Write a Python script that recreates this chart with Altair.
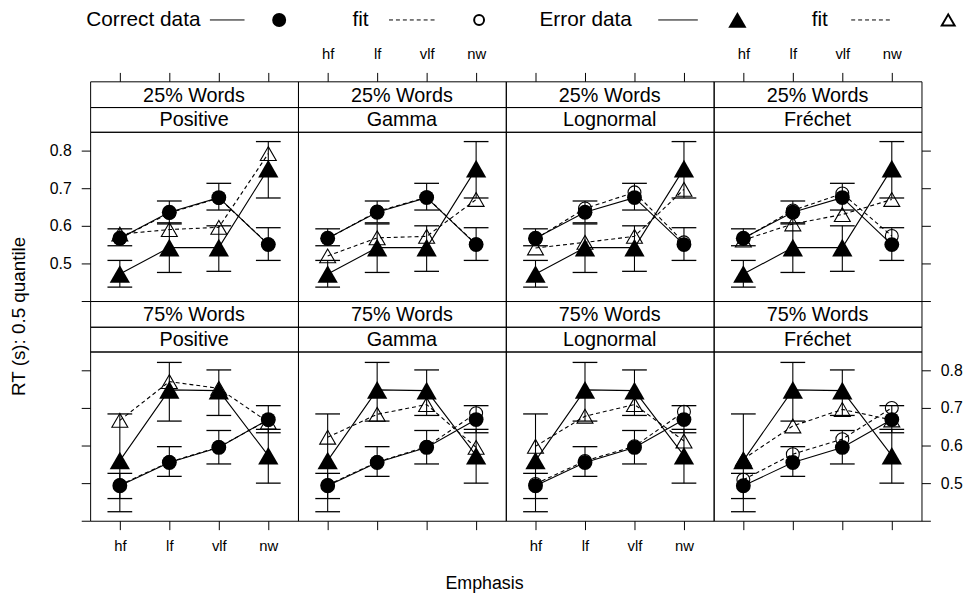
import altair as alt
import pandas as pd

FONT = "Liberation Sans"

EMPH = ["hf", "lf", "vlf", "nw"]
MODELS = ["Positive", "Gamma", "Lognormal", "Fréchet"]
WORDS = ["25% Words", "75% Words"]
LEGEND_LABELS = ["Correct data", "fit", "Error data", "fit"]
YTICKS = [0.4, 0.5, 0.6, 0.7, 0.8]

# observed quantiles (same in every model panel of a row)
CORRECT_25 = [0.567, 0.636, 0.675, 0.550]
CORRECT_25_LO = [0.547, 0.608, 0.642, 0.508]
CORRECT_25_HI = [0.592, 0.666, 0.713, 0.595]
ERROR_25 = [0.472, 0.542, 0.542, 0.752]
ERROR_25_LO = [0.437, 0.476, 0.479, 0.674]
ERROR_25_HI = [0.508, 0.605, 0.600, 0.824]

CORRECT_75 = [0.493, 0.555, 0.595, 0.669]
CORRECT_75_LO = [0.459, 0.518, 0.551, 0.634]
CORRECT_75_HI = [0.526, 0.597, 0.640, 0.706]
ERROR_75 = [0.560, 0.748, 0.746, 0.573]
ERROR_75_LO = [0.424, 0.665, 0.680, 0.500]
ERROR_75_HI = [0.684, 0.821, 0.801, 0.643]

# model fits
FIT_CORRECT_25 = {
    "Positive": [0.566, 0.634, 0.674, 0.551],
    "Gamma": [0.566, 0.638, 0.676, 0.551],
    "Lognormal": [0.565, 0.646, 0.689, 0.556],
    "Fréchet": [0.566, 0.641, 0.686, 0.573],
}
FIT_ERROR_25 = {
    "Positive": [0.578, 0.590, 0.596, 0.792],
    "Gamma": [0.520, 0.568, 0.572, 0.670],
    "Lognormal": [0.541, 0.556, 0.572, 0.697],
    "Fréchet": [0.562, 0.605, 0.630, 0.670],
}
FIT_CORRECT_75 = {
    "Positive": [0.495, 0.556, 0.596, 0.668],
    "Gamma": [0.495, 0.556, 0.597, 0.686],
    "Lognormal": [0.498, 0.559, 0.598, 0.690],
    "Fréchet": [0.509, 0.577, 0.617, 0.700],
}
FIT_ERROR_75 = {
    "Positive": [0.667, 0.770, 0.752, 0.662],
    "Gamma": [0.622, 0.683, 0.709, 0.595],
    "Lognormal": [0.598, 0.678, 0.709, 0.612],
    "Fréchet": [0.564, 0.652, 0.696, 0.668],
}

OBS = {
    WORDS[0]: (CORRECT_25, CORRECT_25_LO, CORRECT_25_HI, ERROR_25, ERROR_25_LO, ERROR_25_HI,
               FIT_CORRECT_25, FIT_ERROR_25),
    WORDS[1]: (CORRECT_75, CORRECT_75_LO, CORRECT_75_HI, ERROR_75, ERROR_75_LO, ERROR_75_HI,
               FIT_CORRECT_75, FIT_ERROR_75),
}

rows = []
for w in WORDS:
    c, clo, chi, e, elo, ehi, fc, fe = OBS[w]
    for m in MODELS:
        for i, em in enumerate(EMPH):
            rows.append(dict(words=w, model=m, emph=em, idx=i, kind="Correct", src="data",
                             val=c[i], lo=clo[i], hi=chi[i]))
            rows.append(dict(words=w, model=m, emph=em, idx=i, kind="Error", src="data",
                             val=e[i], lo=elo[i], hi=ehi[i]))
            rows.append(dict(words=w, model=m, emph=em, idx=i, kind="Correct", src="fit",
                             val=fc[m][i], lo=fc[m][i], hi=fc[m][i]))
            rows.append(dict(words=w, model=m, emph=em, idx=i, kind="Error", src="fit",
                             val=fe[m][i], lo=fe[m][i], hi=fe[m][i]))
df = pd.DataFrame(rows)

PW, PH = 210, 171
XS = alt.Scale(type="point", domain=EMPH, padding=0.6)
YS = alt.Scale(domain=[0.4, 0.85], nice=False, zero=False)


def yaxis_for(r, c):
    common = dict(values=YTICKS, tickSize=9, tickColor="black", tickWidth=1, domain=False,
                  grid=False, labelFont=FONT, labelFontSize=16, labelColor="black",
                  labelPadding=10, format=".1f",
                  labelExpr="datum.value < 0.45 ? '' : datum.label")
    if c == 0:
        d = dict(orient="left", labels=(r == 0), **common)
    elif c == 3:
        d = dict(orient="right", labels=(r == 1), **common)
    else:
        return None
    if r == 0 and c == 0:
        d.update(title="RT (s): 0.5 quantile", titleFont=FONT, titleFontSize=19,
                 titleFontWeight="normal", titleColor="black", titleX=-72, titleY=186,
                 titleAngle=270, titleAlign="center", titleBaseline="middle")
    else:
        d["title"] = None
    return alt.Axis(**d)


def xaxis_bottom(c):
    d = dict(orient="bottom", tickSize=9, tickColor="black", tickWidth=1, domain=False,
             grid=False, labels=(c % 2 == 0), labelFont=FONT, labelFontSize=15,
             labelColor="black", labelPadding=9, labelAngle=0)
    if c == 0:
        d.update(title="Emphasis", titleFont=FONT, titleFontSize=18, titleFontWeight="normal",
                 titleColor="black", titleX=398, titleY=63, titleAlign="center",
                 titleBaseline="middle")
    else:
        d["title"] = None
    return alt.Axis(**d)


def plot_panel(r, c):
    sub = df[(df.words == WORDS[r]) & (df.model == MODELS[c])]
    base = alt.Chart(sub)
    xa = xaxis_bottom(c) if r == 1 else None
    ya = yaxis_for(r, c)
    X = alt.X("emph:N", scale=XS, axis=xa)

    def Y(f):
        return alt.Y(f, scale=YS, axis=ya)

    def filt(src, kind):
        return base.transform_filter(f"datum.src == '{src}' && datum.kind == '{kind}'")

    layers = []
    for kind in ["Correct", "Error"]:
        layers.append(filt("fit", kind).mark_line(color="black", strokeWidth=1.1,
                                                  strokeDash=[4, 3]).encode(
            x=X, y=Y("val:Q"), order="idx:Q"))
    layers.append(filt("fit", "Correct").mark_point(shape="circle", filled=False, size=170,
                                                    color="black", strokeWidth=1.1,
                                                    opacity=1).encode(x=X, y=Y("val:Q")))
    layers.append(filt("fit", "Error").mark_point(shape="triangle-up", filled=False, size=260,
                                                  color="black", strokeWidth=1.1,
                                                  opacity=1).encode(x=X, y=Y("val:Q")))
    for kind in ["Correct", "Error"]:
        d = filt("data", kind)
        layers.append(d.mark_rule(color="black", strokeWidth=1.1).encode(
            x=X, y=Y("lo:Q"), y2="hi:Q"))
        layers.append(d.mark_tick(color="black", size=25, thickness=1.3, orient="horizontal",
                                  opacity=1).encode(x=X, y=Y("lo:Q")))
        layers.append(d.mark_tick(color="black", size=25, thickness=1.3, orient="horizontal",
                                  opacity=1).encode(x=X, y=Y("hi:Q")))
    for kind in ["Correct", "Error"]:
        layers.append(filt("data", kind).mark_line(color="black", strokeWidth=1.1).encode(
            x=X, y=Y("val:Q"), order="idx:Q"))
    layers.append(filt("data", "Correct").mark_point(shape="circle", filled=True, size=225,
                                                     color="black", opacity=1).encode(
        x=X, y=Y("val:Q")))
    layers.append(filt("data", "Error").mark_point(shape="triangle-up", filled=True, size=420,
                                                   color="black", opacity=1).encode(
        x=X, y=Y("val:Q")))
    return alt.layer(*layers).properties(width=PW, height=PH)


def legend_layers():
    # key drawn above the first strip (y values are relative to that strip's top)
    lb = alt.Chart(pd.DataFrame({"k": [0]}))
    LY = -62
    leg = [
        lb.mark_text(font=FONT, fontSize=21, align="left", baseline="middle", color="black").encode(
            x=alt.value(xp), y=alt.value(LY), text=alt.value(lbl))
        for lbl, xp in zip(LEGEND_LABELS, [-4, 265, 454, 729])
    ]
    leg += [
        lb.mark_rule(color="black", strokeWidth=1).encode(x=alt.value(121), x2=alt.value(156), y=alt.value(LY)),
        lb.mark_rule(color="black", strokeWidth=1, strokeDash=[4, 3]).encode(x=alt.value(302), x2=alt.value(349), y=alt.value(LY)),
        lb.mark_rule(color="black", strokeWidth=1).encode(x=alt.value(574), x2=alt.value(614), y=alt.value(LY)),
        lb.mark_rule(color="black", strokeWidth=1, strokeDash=[4, 3]).encode(x=alt.value(769), x2=alt.value(811), y=alt.value(LY)),
        lb.mark_point(shape="circle", filled=True, size=200, color="black", opacity=1).encode(x=alt.value(191), y=alt.value(LY)),
        lb.mark_point(shape="circle", filled=False, size=100, color="black", opacity=1).encode(x=alt.value(393), y=alt.value(LY)),
        lb.mark_point(shape="triangle-up", filled=True, size=340, color="black", opacity=1).encode(x=alt.value(654), y=alt.value(LY)),
        lb.mark_point(shape="triangle-up", filled=False, size=170, color="black", opacity=1).encode(x=alt.value(867), y=alt.value(LY)),
    ]
    return leg


def strip(r, c, level):
    text = WORDS[r] if level == 0 else MODELS[c]
    h = 26 if level == 0 else 25
    t = alt.Chart(pd.DataFrame({"label": [text]})).mark_text(
        font=FONT, fontSize=20, align="center", baseline="alphabetic", color="black").encode(
        text="label:N", x=alt.value(PW / 2), y=alt.value(h - 5.5))
    if r == 0 and level == 0:
        ax = alt.Axis(orient="top", tickSize=9, tickColor="black", tickWidth=1, domain=False,
                      grid=False, labels=(c % 2 == 1), labelFont=FONT, labelFontSize=15,
                      labelColor="black", labelPadding=11, labelAngle=0, title=None)
        a = alt.Chart(pd.DataFrame({"emph": EMPH})).mark_point(opacity=0).encode(
            x=alt.X("emph:N", scale=XS, axis=ax))
        extra = legend_layers() if c == 0 else []
        return alt.layer(a, t, *extra).properties(width=PW, height=h)
    return t.properties(width=PW, height=h)


cells = []
for r in range(2):
    cells += [strip(r, c, 0) for c in range(4)]
    cells += [strip(r, c, 1) for c in range(4)]
    cells += [plot_panel(r, c) for c in range(4)]

chart = alt.concat(*cells, columns=4, spacing=0, bounds="flush", align="each").properties(
    padding={"left": 1, "top": -3, "right": 5, "bottom": 5},
    background="white",
).configure_view(stroke="black", strokeWidth=1)

chart.save("out.html", embed_options={"renderer": "svg", "actions": False})
